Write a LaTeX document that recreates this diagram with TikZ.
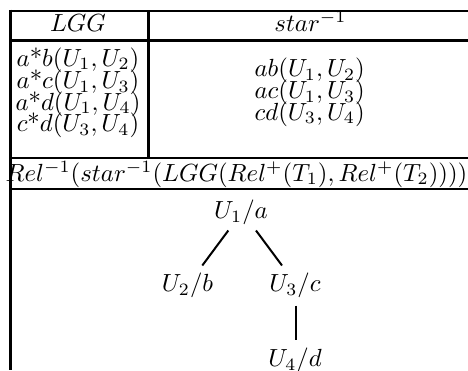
\documentclass[tikz,border=0pt]{standalone}
\begin{document}
\begin{tikzpicture}[x=1pt,y=-1pt,
  rule/.style={line width=2.6pt},
  cell/.style={inner sep=0pt,anchor=base,scale=2.48},
  edge/.style={line width=2pt}]
\useasboundingbox (0,0) rectangle (468,370);

% table rules
\draw[rule] (10.7,9.7) -- (10.7,370);
\draw[rule] (9.4,11) -- (468,11);
\draw[rule] (10.7,40.5) -- (468,40.5);
\draw[rule] (148.6,11) -- (148.6,158);
\draw[rule] (10.7,158) -- (468,158);
\draw[rule] (10.7,189) -- (468,189);

% header
\node[cell] (hl) at (78,31) {$LGG$};
\node[cell] (hr) at (310.5,31) {$star^{-1}$};

% left column
\node[cell] (l1) at (78,66)    {$a\mbox{*}b(U_1,U_2)$};
\node[cell] (l2) at (78,88.3)  {$a\mbox{*}c(U_1,U_3)$};
\node[cell] (l3) at (78,110)   {$a\mbox{*}d(U_1,U_4)$};
\node[cell] (l4) at (78,131.7) {$c\mbox{*}d(U_3,U_4)$};

% right column
\node[cell] (r1) at (309.7,76.7) {$ab(U_1,U_2)$};
\node[cell] (r2) at (309.7,98.3) {$ac(U_1,U_3)$};
\node[cell] (r3) at (309.7,120)  {$cd(U_3,U_4)$};

% formula row
\node[cell] (rel) at (236.5,181) {$Rel^{-1}(star^{-1}(LGG(Rel^{+}(T_1),Rel^{+}(T_2))))$};

% tree
\node[cell] (u1) at (241,218.3)   {$U_1/a$};
\node[cell] (u2) at (187.5,291.7) {$U_2/b$};
\node[cell] (u3) at (295,291.7)   {$U_3/c$};
\node[cell] (u4) at (295,366.5)   {$U_4/d$};

\draw[edge] ([xshift=-12.7pt,yshift=-5.5pt]u1.south) -- ([xshift=14.8pt,yshift=7.1pt]u2.north);
\draw[edge] ([xshift=15pt,yshift=-5.5pt]u1.south) -- ([xshift=-13pt,yshift=7.1pt]u3.north);
\draw[edge] ([xshift=0.7pt,yshift=-7.1pt]u3.south) -- ([xshift=0.7pt,yshift=7.2pt]u4.north);
\end{tikzpicture}
\end{document}
